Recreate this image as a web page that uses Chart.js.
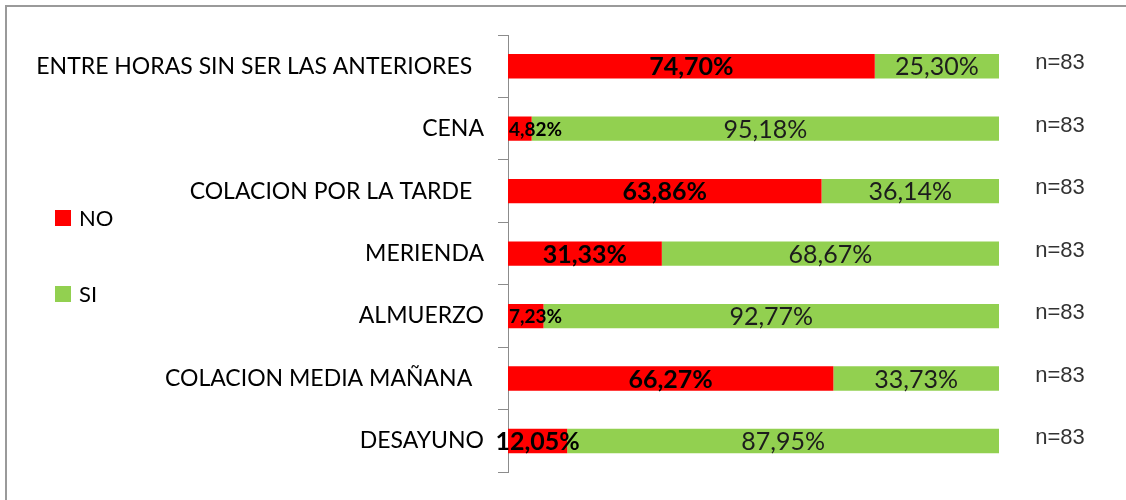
<!DOCTYPE html>
<html>
<head>
<meta charset="utf-8">
<script src="https://cdn.jsdelivr.net/npm/chart.js@4.4.0/dist/chart.umd.min.js"></script>
<style>
  html, body { margin: 0; padding: 0; background: #fff; }
  #wrap { width: 1126px; height: 500px; position: relative; }
</style>
</head>
<body>
<div id="wrap"><canvas id="chart_comidas"></canvas></div>
<script>
// data
const categories = [
    'ENTRE HORAS SIN SER LAS ANTERIORES  ', 'CENA', 'COLACION POR LA TARDE  ',
    'MERIENDA', 'ALMUERZO', 'COLACION MEDIA MAÑANA  ', 'DESAYUNO'
];
const noValues = [74.70, 4.82, 63.86, 31.33, 7.23, 66.27, 12.05];
const siValues = [25.30, 95.18, 36.14, 68.67, 92.77, 33.73, 87.95];
const sampleSizes = [83, 83, 83, 83, 83, 83, 83];
const seriesNames = ['NO', 'SI'];

const fmt = v => v.toFixed(2).replace('.', ',') + '%';

var chart_comidas = new Chart(document.getElementById('chart_comidas'), {
    type: 'bar',
    data: {
        labels: categories,
        datasets: [
            {
                label: seriesNames[0],
                backgroundColor: '#FF0000',
                data: noValues,
                barPercentage: 0.39,
                categoryPercentage: 1
            },
            {
                label: seriesNames[1],
                backgroundColor: '#92D050',
                data: siValues,
                barPercentage: 0.39,
                categoryPercentage: 1
            }
        ]
    },
    options: {
        indexAxis: 'y',
        animation: false,
        responsive: true,
        maintainAspectRatio: false,
        layout: {
            padding: { left: 8, top: 35, right: 127, bottom: 26 }
        },
        plugins: {
            legend: { display: false },
            tooltip: { enabled: false }
        },
        scales: {
            x: {
                stacked: true,
                min: 0,
                max: 100,
                display: false
            },
            y: {
                stacked: true,
                grid: {
                    offset: true,
                    drawOnChartArea: false,
                    drawTicks: true,
                    tickLength: 10,
                    color: '#8c8c8c'
                },
                border: { display: true, color: '#8c8c8c' },
                ticks: {
                    color: '#000',
                    padding: 14,
                    font: { family: 'Lato', size: 23 }
                },
                afterFit: (scale) => { scale.width = 500; }
            }
        }
    },
    plugins: [{
        id: 'customPlugin',
        beforeDraw: (chart) => {
            const ctx = chart.ctx;
            ctx.save();
            ctx.fillStyle = 'white';
            ctx.fillRect(0, 0, chart.width, chart.height);
            ctx.strokeStyle = '#9a9a9a';
            ctx.lineWidth = 2;
            ctx.strokeRect(6, 6, chart.width + 20, chart.height + 20);
            ctx.restore();
        },
        afterDatasetsDraw: (chart) => {
            const ctx = chart.ctx;
            ctx.save();
            ctx.textBaseline = 'middle';
            // values inside the bars
            chart.data.datasets.forEach((ds, di) => {
                chart.getDatasetMeta(di).data.forEach((bar, i) => {
                    const v = ds.data[i];
                    const txt = fmt(v);
                    const left = Math.min(bar.x, bar.base);
                    if (di === 0) {
                        ctx.fillStyle = '#000';
                        if (v < 10) {
                            ctx.font = 'bold 19px Lato';
                            ctx.textAlign = 'left';
                            ctx.fillText(txt, left + 1, bar.y + 1);
                        } else {
                            ctx.font = 'bold 25px Lato';
                            ctx.textAlign = 'center';
                            ctx.fillText(txt, (bar.x + bar.base) / 2, bar.y + 1);
                        }
                    } else {
                        ctx.fillStyle = '#1c1c1c';
                        ctx.font = '25px Lato';
                        ctx.textAlign = 'center';
                        ctx.fillText(txt, (bar.x + bar.base) / 2, bar.y + 1);
                    }
                });
            });
            // n= labels at the right
            const yScale = chart.scales.y;
            ctx.font = '22px "Liberation Sans"';
            ctx.fillStyle = '#333';
            ctx.textAlign = 'center';
            sampleSizes.forEach((n, i) => {
                ctx.fillText('n=' + n, chart.chartArea.right + 61, yScale.getPixelForValue(i) - 3);
            });
            // legend at the left
            ctx.textAlign = 'left';
            ctx.font = '22px Lato';
            chart.data.datasets.forEach((ds, di) => {
                const y = 218 + di * 76;
                ctx.fillStyle = ds.backgroundColor;
                ctx.fillRect(55, y - 8, 16, 16);
                ctx.fillStyle = '#000';
                ctx.fillText(ds.label, 79, y + 1);
            });
            ctx.restore();
        }
    }]
});
</script>
</body>
</html>
